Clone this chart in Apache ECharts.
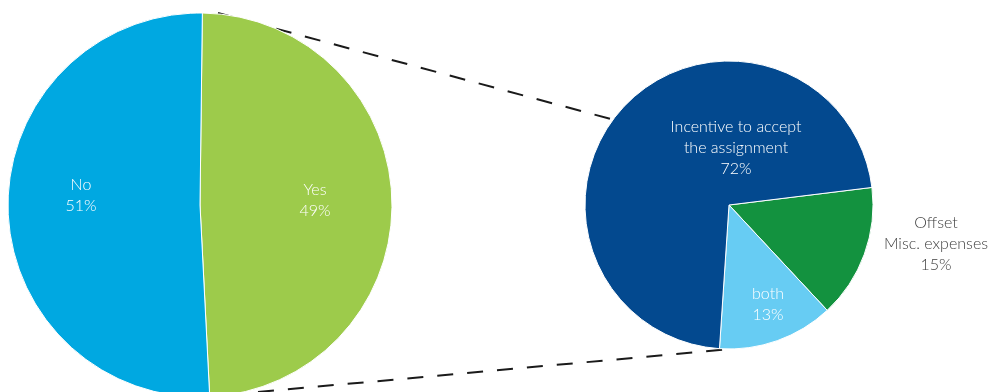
<!DOCTYPE html>
<html>
<head>
<meta charset="utf-8">
<script src="https://cdn.jsdelivr.net/npm/echarts@6/dist/echarts.min.js"></script>
<style>
html,body{margin:0;padding:0;background:#fff;}
#chart{width:993px;height:392px;}
</style>
</head>
<body>
<div id="chart"></div>
<script>
// Left pie: reimbursement offered?
const mainCategories = ['Yes', 'No'];
const mainValues = [49, 51];
// Right pie: breakdown of "Yes"
const subCategories = ['Offset\nMisc. expenses', 'both', 'Incentive to accept\nthe assignment'];
const subValues = [15, 13, 72];

const mainColors = ['#9DCB4B', '#00A8E1'];
const subColors = ['#13923F', '#67CCF3', '#03498F'];

// label anchor positions (px)
const mainLabelPos = [[315, 200], [81, 195]];
const subLabelPos = [[936, 244], [768, 304], [736, 148]];
const subLabelColors = ['#404040', '#ffffff', '#ffffff'];

const chart = echarts.init(document.getElementById('chart'), null, {renderer: 'canvas'});

const baseLabel = {
  show: true,
  position: 'inside',
  fontFamily: 'Lato',
  fontWeight: 300,
  fontSize: 16,
  lineHeight: 21,
  color: '#ffffff',
  align: 'center',
  formatter: p => p.name + '\n' + p.value + '%'
};

chart.setOption({
  animation: false,
  backgroundColor: '#ffffff',
  series: [
    {
      type: 'pie',
      center: [200, 205],
      radius: [0, 192],
      startAngle: 89.3,
      clockwise: true,
      silent: true,
      z: 5,
      itemStyle: {borderColor: '#ffffff', borderWidth: 1},
      label: baseLabel,
      labelLine: {show: false},
      labelLayout: p => ({x: mainLabelPos[p.dataIndex][0], y: mainLabelPos[p.dataIndex][1], align: 'center', verticalAlign: 'middle'}),
      data: mainCategories.map((c, i) => ({name: c, value: mainValues[i], itemStyle: {color: mainColors[i]}}))
    },
    {
      type: 'pie',
      center: [729, 205],
      radius: [0, 144],
      startAngle: 7,
      clockwise: true,
      silent: true,
      z: 5,
      itemStyle: {borderColor: '#ffffff', borderWidth: 1},
      label: baseLabel,
      labelLine: {show: false},
      labelLayout: p => ({x: subLabelPos[p.dataIndex][0], y: subLabelPos[p.dataIndex][1], align: 'center', verticalAlign: 'middle'}),
      data: subCategories.map((c, i) => ({name: c, value: subValues[i], itemStyle: {color: subColors[i]}, label: {color: subLabelColors[i]}}))
    }
  ],
  graphic: {
    z: 0,
    elements: [
      {type: 'line', z: 0, shape: {x1: 218, y1: 13, x2: 870, y2: 189}, style: {stroke: '#1a1a1a', lineWidth: 2, lineDash: [16, 14]}},
      {type: 'line', z: 0, shape: {x1: 258, y1: 392, x2: 731, y2: 349}, style: {stroke: '#1a1a1a', lineWidth: 2, lineDash: [16, 14]}}
    ]
  }
});
</script>
</body>
</html>
